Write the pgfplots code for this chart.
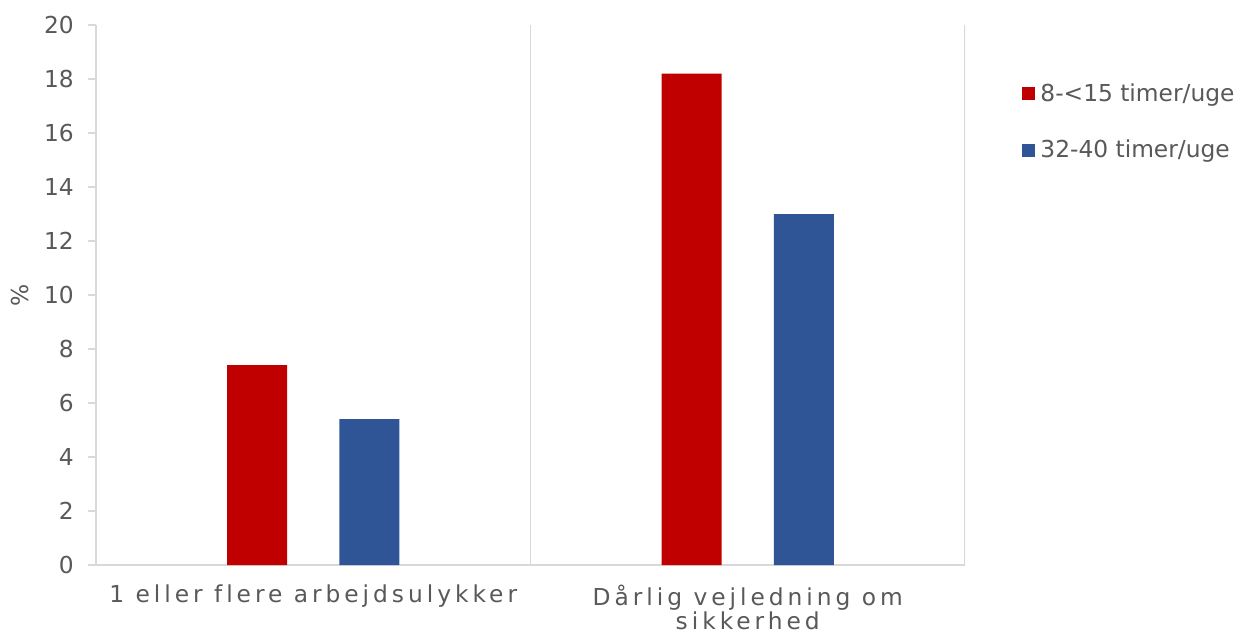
\documentclass[border=0pt]{standalone}
\usepackage{fontspec}
\setmainfont{DejaVu Sans}
\usepackage{pgfplots}
\pgfplotsset{compat=1.18}
\definecolor{cred}{HTML}{C00000}
\definecolor{cblue}{HTML}{2F5597}
\definecolor{cgrid}{HTML}{D9D9D9}
\definecolor{ctext}{HTML}{595959}
\begin{document}
\begin{tikzpicture}
\path[use as bounding box] (0,0) rectangle (750pt,381pt);
\begin{axis}[
  at={(57.6pt,42pt)}, anchor=south west,
  scale only axis, width=521.4pt, height=324pt,
  xmin=-0.5, xmax=1.5, ymin=0, ymax=20,
  ytick={0,2,...,20},
  xtick={0,1},
  xticklabels={{1 eller flere arbejdsulykker},{Dårlig vejledning om\\sikkerhed}},
  axis x line*=bottom, axis y line*=left,
  axis line style={-, draw=cgrid, line width=1pt},
  tick align=outside, major tick length=4.8pt,
  ytick style={draw=cgrid, line width=1pt},
  xtick style={draw=none},
  font=\fontsize{14pt}{17pt}\selectfont,
  ticklabel style={text=ctext},
  yticklabel style={xshift=-5pt},
  xticklabel style={align=center, yshift=-6.5pt, inner sep=0.5pt, font=\fontsize{14pt}{14.2pt}\selectfont\addfontfeature{LetterSpace=17,Ligatures=CommonOff}},
  /pgf/number format/assume math mode=true,
  ylabel={\%}, ylabel style={text=ctext, at={(axis description cs:-0.0875,0.5)}, anchor=center},
  ybar, bar width=0.138,
  legend style={draw=none, at={(1.059,0.905)}, anchor=north west, row sep=18pt, font=\fontsize{14pt}{17pt}\selectfont, text=ctext, cells={anchor=west}, /tikz/every even column/.append style={column sep=0pt}},
  legend image code/.code={\fill[#1] (0pt,-3.9pt) rectangle (7.8pt,3.9pt);},
  legend cell align=left,
]
\addplot[fill=cred, draw=none, bar shift=-0.129] coordinates {(0,7.4) (1,18.2)};
\addlegendentry{\hspace{1.5pt}8-<15 timer/uge}
\addplot[fill=cblue, draw=none, bar shift=0.129] coordinates {(0,5.4) (1,13.0)};
\addlegendentry{\hspace{1.5pt}32-40 timer/uge}
\draw[cgrid, line width=1pt] (axis cs:0.5,0) -- (axis cs:0.5,20);
\draw[cgrid, line width=1pt] (axis cs:1.5,0) -- (axis cs:1.5,20);
\end{axis}
\end{tikzpicture}
\end{document}
